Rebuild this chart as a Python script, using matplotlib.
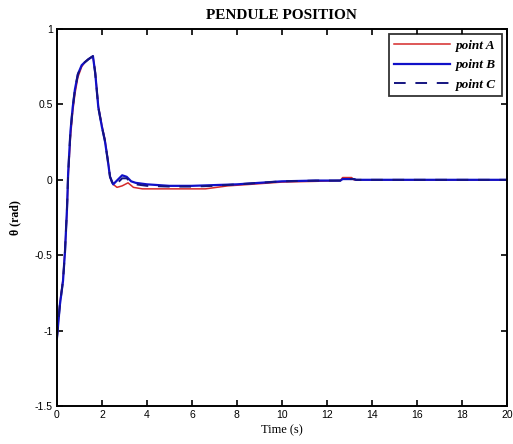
import numpy as np
import matplotlib.pyplot as plt

plt.rcParams['font.family'] = ['Liberation Serif', 'DejaVu Serif']

# time samples (s)
t_a = [0, 0.13, 0.27, 0.36, 0.45, 0.5, 0.6, 0.7, 0.8, 0.93, 1.1, 1.24, 1.4, 1.6, 1.7,
       1.84, 2.0, 2.13, 2.25, 2.36, 2.5, 2.67, 2.9, 3.16, 3.4, 3.8, 4.5, 5.5, 6.6, 7.6,
       8.6, 10, 11.5, 12.6, 12.7, 13.1, 13.2, 14, 20]
theta_a = [-1.05, -0.82, -0.66, -0.46, -0.2, 0.02, 0.28, 0.45, 0.57, 0.68, 0.75, 0.78, 0.8,
           0.82, 0.72, 0.49, 0.36, 0.27, 0.15, 0.02, -0.03, -0.05, -0.04, -0.02, -0.05, -0.06,
           -0.06, -0.06, -0.06, -0.04, -0.03, -0.015, -0.01, -0.005, 0.015, 0.015, 0.0, 0.0, 0.0]

t_b = [0, 0.13, 0.27, 0.36, 0.45, 0.5, 0.6, 0.7, 0.8, 0.93, 1.1, 1.24, 1.4, 1.6, 1.7,
       1.84, 2.0, 2.13, 2.25, 2.36, 2.5, 2.7, 2.9, 3.1, 3.3, 3.5, 4, 5, 6, 7, 8, 9, 10,
       11.5, 12.6, 12.7, 13.2, 13.3, 20]
theta_b = [-1.05, -0.83, -0.67, -0.47, -0.18, 0.05, 0.32, 0.48, 0.6, 0.7, 0.76, 0.78, 0.8,
           0.82, 0.71, 0.48, 0.35, 0.26, 0.14, 0.02, -0.03, 0.0, 0.03, 0.02, -0.01, -0.02,
           -0.03, -0.04, -0.04, -0.035, -0.03, -0.02, -0.01, -0.005, -0.005, 0.005, 0.005,
           0.0, 0.0]

t_c = t_b
theta_c = [-1.05, -0.83, -0.67, -0.47, -0.18, 0.05, 0.32, 0.48, 0.6, 0.7, 0.76, 0.78, 0.8,
           0.82, 0.71, 0.48, 0.35, 0.26, 0.14, 0.02, -0.04, -0.02, 0.01, 0.01, -0.02, -0.03,
           -0.04, -0.045, -0.045, -0.04, -0.03, -0.02, -0.01, -0.005, -0.005, 0.005, 0.005,
           0.0, 0.0]

fig = plt.figure(figsize=(5.13, 4.44), dpi=100)
ax = fig.add_axes([0.111, 0.0856, 0.877, 0.849])

ax.plot(t_a, theta_a, color='#d42a2a', lw=1.1, label='point A')
ax.plot(t_b, theta_b, color='#1010c8', lw=1.6, label='point B')
ax.plot(t_c, theta_c, color='#141480', lw=1.4, ls=(0, (6, 5)), label='point C')

ax.set_xlim(0, 20)
ax.set_ylim(-1.5, 1)
ax.set_xticks(np.arange(0, 21, 2))
ax.set_yticks([-1.5, -1, -0.5, 0, 0.5, 1])
ax.set_yticklabels(['-1.5', '-1', '-0.5', '0', '0.5', '1'])
ax.tick_params(direction='in', top=True, right=True, labelsize=7.5, length=4, width=1.2,
               pad=3)
for lab in ax.get_xticklabels() + ax.get_yticklabels():
    lab.set_family(['Liberation Sans', 'DejaVu Sans'])
for s in ax.spines.values():
    s.set_linewidth(1.4)

ax.set_title('PENDULE POSITION', fontsize=11, fontweight='bold', pad=7)
ax.set_xlabel('Time (s)', fontsize=9, labelpad=3)
ax.set_ylabel('θ (rad)', fontsize=8.5, fontweight='bold', labelpad=10)

leg = ax.legend(loc='upper right', frameon=True, fancybox=False,
                edgecolor='black', handlelength=4.2, borderaxespad=0.4,
                labelspacing=0.55, handletextpad=0.5,
                prop={'style': 'italic', 'weight': 'bold', 'size': 9.5})
leg.get_frame().set_linewidth(1.3)

fig.savefig('out.png', dpi=100)
